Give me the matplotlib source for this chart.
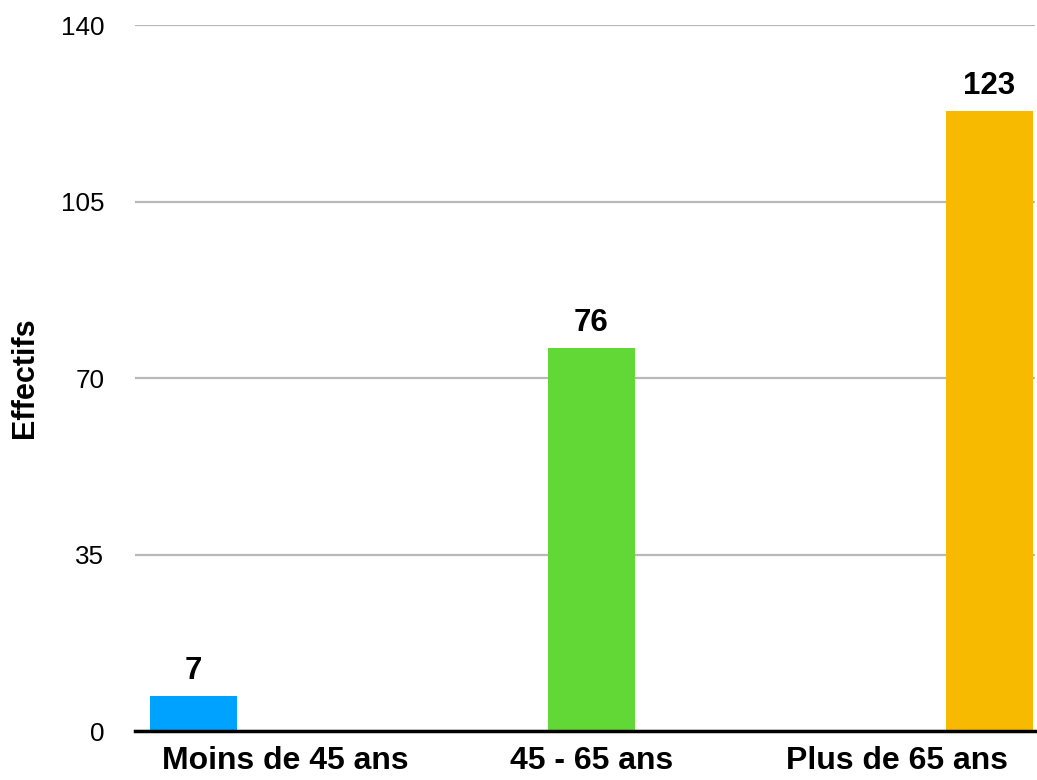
import matplotlib
matplotlib.use("Agg")
import matplotlib.pyplot as plt
import numpy as np

categories = ["Moins de 45 ans", "45 - 65 ans", "Plus de 65 ans"]
series_names = ["Moins de 45 ans", "45 - 65 ans", "Plus de 65 ans"]
series_values = [
    [7, 0, 0],
    [0, 76, 0],
    [0, 0, 123],
]
series_colors = ["#00A2FF", "#61D836", "#F8BA00"]
y_ticks = [0, 35, 70, 105, 140]
y_label = "Effectifs"

plt.rcParams['font.family'] = ['Liberation Sans', 'DejaVu Sans']

fig = plt.figure(figsize=(10.37, 7.80), dpi=100)
ax = fig.add_axes([0.130, 0.0628, 0.868, 0.905])

x = np.arange(len(categories))
offset = 0.303
width = 0.285
for j, (vals, col) in enumerate(zip(series_values, series_colors)):
    xs = x + (j - 1) * offset
    ax.bar(xs, vals, width=width, color=col, zorder=3)
    for xi, v in zip(xs, vals):
        if v > 0:
            ax.text(xi, v + 2.0, str(v), ha='center', va='bottom',
                    fontsize=22.5, fontweight='bold', color='black', zorder=4)

ax.set_xlim(-0.494, 2.452)
ax.set_ylim(0, 140)
ax.set_yticks(y_ticks)
ax.set_yticklabels([str(t) for t in y_ticks], fontsize=18.7)
ax.set_xticks(x)
ax.set_xticklabels(categories, fontsize=23, fontweight='bold')
ax.tick_params(axis='y', length=0, pad=22)
ax.tick_params(axis='x', length=0, pad=11)

ax.grid(axis='y', color='#b8b8b8', linewidth=1.6, zorder=0)
ax.grid(axis='x', visible=False)
for s in ['top', 'right', 'left']:
    ax.spines[s].set_visible(False)
ax.spines['bottom'].set_color('black')
ax.spines['bottom'].set_linewidth(2.5)
ax.spines['bottom'].set_zorder(5)

ax.set_ylabel(y_label, fontsize=22, fontweight='bold')
ax.yaxis.set_label_coords(-0.1056, 0.5)

fig.savefig("out.png", dpi=100, facecolor='white')
